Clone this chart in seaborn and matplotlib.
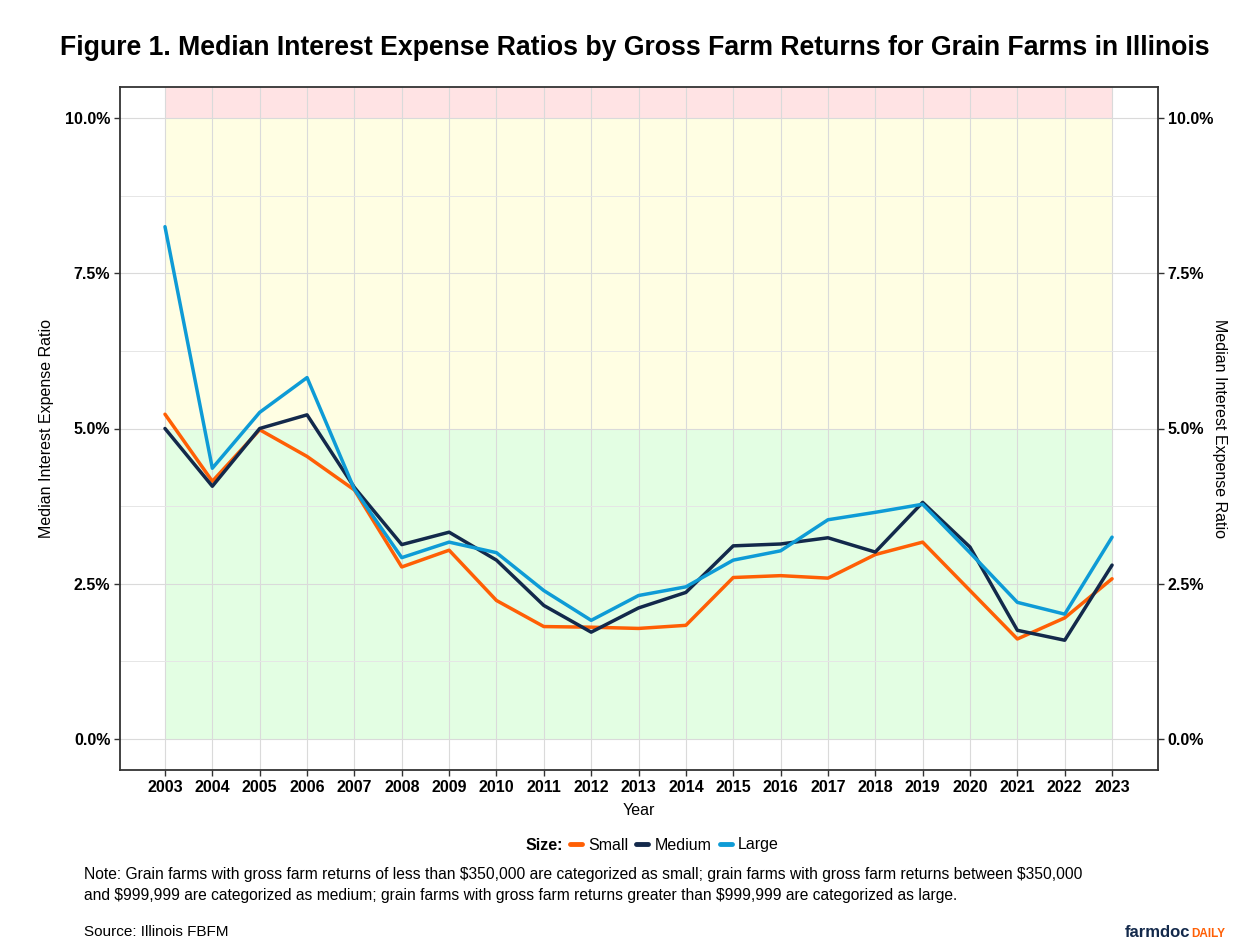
import matplotlib
matplotlib.use("Agg")
import matplotlib.pyplot as plt
from matplotlib.ticker import FuncFormatter, MultipleLocator
from matplotlib.lines import Line2D
import seaborn as sns
import pandas as pd

years = list(range(2003, 2024))
small = [5.23, 4.15, 4.98, 4.55, 4.01, 2.77, 3.04, 2.23, 1.81, 1.80, 1.78, 1.83,
         2.60, 2.63, 2.59, 2.97, 3.17, 2.39, 1.61, 1.95, 2.58]
medium = [5.00, 4.07, 5.00, 5.22, 4.05, 3.13, 3.33, 2.88, 2.15, 1.72, 2.11, 2.36,
          3.11, 3.14, 3.24, 3.01, 3.81, 3.09, 1.75, 1.59, 2.80]
large = [8.25, 4.36, 5.26, 5.82, 4.02, 2.92, 3.17, 3.00, 2.39, 1.91, 2.31, 2.45,
         2.88, 3.03, 3.53, 3.65, 3.78, 3.00, 2.20, 2.01, 3.25]
sizes = ["Small", "Medium", "Large"]
colors = ["#FF5F05", "#13294B", "#0E9BD6"]

title = "Figure 1. Median Interest Expense Ratios by Gross Farm Returns for Grain Farms in Illinois"
note = ("Note: Grain farms with gross farm returns of less than \\$350,000 are categorized as small; grain farms with gross farm returns between \\$350,000\n"
        "and \\$999,999 are categorized as medium; grain farms with gross farm returns greater than \\$999,999 are categorized as large.")
source = "Source: Illinois FBFM"

df = pd.DataFrame({
    "Year": years * 3,
    "Ratio": small + medium + large,
    "Size": [s for s in sizes for _ in years],
})

sns.set_style("white")
plt.rcParams["font.family"] = ["Liberation Sans", "DejaVu Sans"]
plt.rcParams["text.color"] = "black"
plt.rcParams["axes.labelcolor"] = "black"

W, H = 1248, 944
fig = plt.figure(figsize=(W / 100, H / 100), dpi=100)
ax = fig.add_axes([120 / W, 1 - 770 / H, (1158 - 120) / W, (770 - 87) / H])

# Background zones
ax.fill_between([years[0], years[-1]], 0, 5, color="#E3FEE3", zorder=0.1, lw=0)
ax.fill_between([years[0], years[-1]], 5, 10, color="#FFFEE3", zorder=0.1, lw=0)
ax.fill_between([years[0], years[-1]], 10, 10.5, color="#FFE3E4", zorder=0.1, lw=0)

sns.lineplot(data=df, x="Year", y="Ratio", hue="Size", hue_order=sizes,
             palette=dict(zip(sizes, colors)), linewidth=2.5, ax=ax,
             legend=False, zorder=3)

ax.set_xlim(years[0] - 0.95, years[-1] + 0.97)
ax.set_ylim(-0.5, 10.5)
ax.set_xticks(years)
ax.yaxis.set_major_locator(MultipleLocator(2.5))
ax.yaxis.set_minor_locator(MultipleLocator(1.25))
fmt = FuncFormatter(lambda v, p: f"{v:.1f}%")
ax.yaxis.set_major_formatter(fmt)
ax.set_axisbelow(True)
ax.grid(True, which="major", color="#DADADA", lw=0.8)
ax.grid(True, which="minor", axis="y", color="#E6E6E6", lw=0.7)

for sp in ax.spines.values():
    sp.set_color("#333333")
    sp.set_linewidth(1.3)

ax.tick_params(axis="both", which="major", length=4, width=1, color="#333333",
               labelsize=11.5, labelcolor="black", pad=3, left=True, bottom=True)
ax.tick_params(axis="y", which="minor", length=0)
for lbl in ax.get_xticklabels() + ax.get_yticklabels():
    lbl.set_fontweight("bold")

ax.set_xlabel("Year", fontsize=11.5, labelpad=6)
ax.set_ylabel("Median Interest Expense Ratio", fontsize=11.5, labelpad=8)

ax2 = ax.twinx()
ax2.set_ylim(ax.get_ylim())
ax2.yaxis.set_major_locator(MultipleLocator(2.5))
ax2.yaxis.set_major_formatter(fmt)
ax2.tick_params(axis="y", length=4, width=1, color="#333333", labelsize=11.5,
                labelcolor="black", pad=3, right=True)
for lbl in ax2.get_yticklabels():
    lbl.set_fontweight("bold")
ax2.set_ylabel("Median Interest Expense Ratio", fontsize=11.5, rotation=270,
               labelpad=10)
for sp in ax2.spines.values():
    sp.set_visible(False)

fig.text(635 / W, 1 - 48 / H, title, ha="center", va="center",
         fontsize=19.2, fontweight="bold")

# Legend
handles = [Line2D([], [], color=c, lw=3.5) for c in colors]
fig.text(563 / W, 1 - 845 / H, "Size:", ha="right", va="center",
         fontsize=11.5, fontweight="bold")
fig.legend(handles, sizes, loc="center left", bbox_to_anchor=(570 / W, 1 - 845 / H),
           ncol=3, frameon=False, fontsize=11.5, handlelength=0.75,
           handletextpad=0.4, columnspacing=0.5, borderaxespad=0, borderpad=0)

fig.text(84 / W, 1 - 885 / H, note, ha="left", va="center", fontsize=11.25,
         linespacing=1.5)
fig.text(84 / W, 1 - 932 / H, source, ha="left", va="center", fontsize=11)

fig.text(1190 / W, 1 - 937 / H, "farmdoc", ha="right", va="baseline",
         fontsize=12, fontweight="bold", color="#13294B")
fig.text(1191 / W, 1 - 937 / H, "DAILY", ha="left", va="baseline",
         fontsize=8.5, fontweight="bold", color="#FF5F05")

fig.savefig("out.png", dpi=100)
